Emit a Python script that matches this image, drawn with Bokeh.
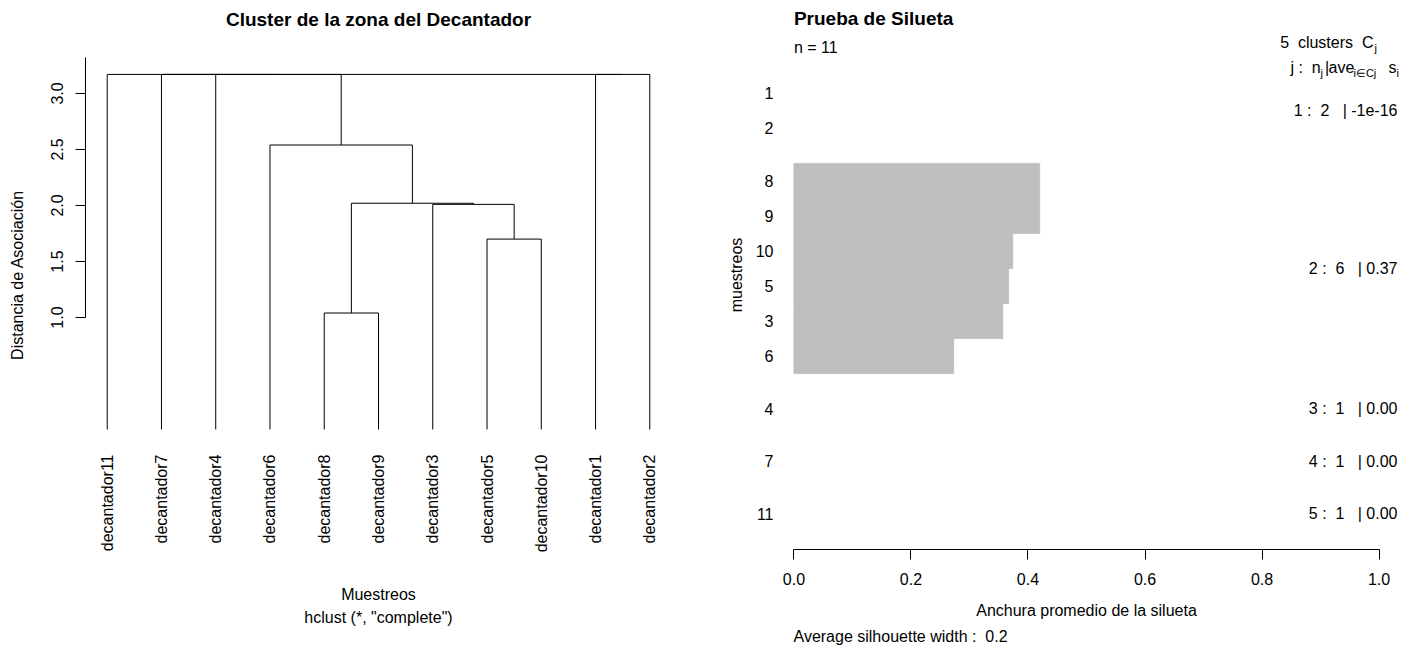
from bokeh.plotting import figure
from bokeh.models import Range1d, FixedTicker, Label, PrintfTickFormatter, Title
from bokeh.layouts import row
from bokeh.embed import file_html
from bokeh.resources import INLINE
import math

FONT = "Liberation Sans"
BASE = "16px"
SUB = "11px"
TITLE = "19px"
NB = "\u00a0"  # non-breaking space keeps double spacing in SVG text

# ---------------- dendrogram data ----------------
leaf_order = ["decantador11", "decantador7", "decantador4", "decantador6",
              "decantador8", "decantador9", "decantador3", "decantador5",
              "decantador10", "decantador1", "decantador2"]
# each merge: (left child, right child, height); ints refer to earlier merges
merge_left = ["decantador8", "decantador5", "decantador3", 0, "decantador6",
              "decantador1", "decantador4", "decantador7", "decantador11", 8]
merge_right = ["decantador9", "decantador10", 1, 2, 3,
               "decantador2", 4, 6, 7, 5]
merge_height = [1.04, 1.70, 2.01, 2.02, 2.54, 3.17, 3.17, 3.17, 3.17, 3.17]
dist_ticks = [1.0, 1.5, 2.0, 2.5, 3.0]

# ---------------- silhouette data ----------------
sil_samples = ["1", "2", "8", "9", "10", "5", "3", "6", "4", "7", "11"]
sil_cluster = [1, 1, 2, 2, 2, 2, 2, 2, 3, 4, 5]
sil_width = [-1e-16, -1e-16, 0.42, 0.42, 0.374, 0.367, 0.357, 0.273, 0.0, 0.0, 0.0]
sil_ticks = [0.0, 0.2, 0.4, 0.6, 0.8, 1.0]


def style_text(lbl, size=BASE, bold=False):
    lbl.text_font = FONT
    lbl.text_font_size = size
    lbl.text_color = "black"
    lbl.text_font_style = "bold" if bold else "normal"
    return lbl


def style_axis(ax):
    ax.major_label_text_font = FONT
    ax.major_label_text_font_size = BASE
    ax.major_label_text_color = "black"
    ax.axis_label_text_font = FONT
    ax.axis_label_text_font_size = BASE
    ax.axis_label_text_font_style = "normal"
    ax.axis_label_text_color = "black"
    ax.axis_line_color = "black"
    ax.major_tick_line_color = "black"
    ax.minor_tick_line_color = None
    ax.major_tick_in = 0
    ax.major_tick_out = 10


def new_fig(width, xr, yr, left, right):
    f = figure(width=width, height=650, x_range=xr, y_range=yr,
               toolbar_location=None, output_backend="svg",
               min_border_left=left, min_border_right=right,
               min_border_top=0, min_border_bottom=101)
    f.outline_line_color = None
    f.grid.visible = False
    f.background_fill_color = "white"
    f.border_fill_color = "white"
    return f


# ================= left panel: dendrogram =================
n_leaf = len(leaf_order)
pad_x = 0.04 * (n_leaf - 1)
p1 = new_fig(708, Range1d(1 - pad_x, n_leaf + pad_x), Range1d(-1.071, 3.830), 85, 37)

pos = {name: i + 1 for i, name in enumerate(leaf_order)}
hgt = {name: 0.0 for name in leaf_order}
x0, y0, x1, y1 = [], [], [], []
for k, (a, b, h) in enumerate(zip(merge_left, merge_right, merge_height)):
    xa, xb = pos[a], pos[b]
    x0 += [xa, xb, xa]
    y0 += [hgt[a], hgt[b], h]
    x1 += [xa, xb, xb]
    y1 += [h, h, h]
    pos[k] = (xa + xb) / 2
    hgt[k] = h
p1.segment(x0=x0, y0=y0, x1=x1, y1=y1, line_color="black", line_width=1)

ya = p1.yaxis[0]
style_axis(ya)
ya.ticker = FixedTicker(ticks=dist_ticks)
ya.formatter = PrintfTickFormatter(format="%.1f")
ya.bounds = (dist_ticks[0], 3.32)
ya.major_label_orientation = "vertical"
ya.major_label_standoff = 12
ya.axis_label = "Distancia de Asociación"
ya.axis_label_standoff = 23

# leaf names: tick labels turned to read upwards, pulled up to hang below the leaves
xa = p1.xaxis[0]
style_axis(xa)
xa.ticker = FixedTicker(ticks=list(range(1, n_leaf + 1)))
xa.major_label_overrides = {i + 1: name for i, name in enumerate(leaf_order)}
xa.major_label_orientation = math.pi / 2
xa.axis_line_color = None
xa.major_tick_line_color = None
xa.major_tick_out = 0
xa.major_label_standoff = -95
xa.axis_label = "Muestreos"
xa.axis_label_standoff = 31

sub1 = Title(text='hclust (*, "complete")', align="center", standoff=0)
style_text(sub1)
p1.add_layout(sub1, "below")

mid1 = (p1.x_range.start + p1.x_range.end) / 2
p1.add_layout(style_text(Label(x=mid1, y=3.661, text="Cluster de la zona del Decantador",
                               text_align="center", text_baseline="middle"), TITLE, True))

# ================= right panel: silhouette =================
ypos = []
cur = 0.0
for i, c in enumerate(sil_cluster):
    if i > 0 and c != sil_cluster[i - 1]:
        cur += 0.5
    ypos.append(cur + 0.5)
    cur += 1.0
total = cur
pad_y = 0.04 * total
sc_x, sc_y = 585.2, 35.0
p2 = new_fig(709, Range1d(-0.04, 1.04), Range1d(total + pad_y, -pad_y - 57 / sc_y), 62, 15)

edge_alpha = [1.0 if w > 1e-9 else 0.0 for w in sil_width]
p2.hbar(y=ypos, left=0, right=sil_width, height=1.0,
        fill_color="#BEBEBE", line_color="#BEBEBE", line_width=0.8,
        line_alpha=edge_alpha)

bx = p2.xaxis[0]
style_axis(bx)
bx.ticker = FixedTicker(ticks=sil_ticks)
bx.formatter = PrintfTickFormatter(format="%.1f")
bx.bounds = (sil_ticks[0], sil_ticks[-1])
bx.major_label_standoff = 13
bx.axis_label = "Anchura promedio de la silueta"
bx.axis_label_standoff = 14

ly = p2.yaxis[0]
style_axis(ly)
ly.ticker = FixedTicker(ticks=ypos)
ly.major_label_overrides = {y: s for y, s in zip(ypos, sil_samples)}
ly.axis_line_color = None
ly.major_tick_line_color = None
ly.major_tick_out = 0
ly.major_label_standoff = -3
ly.axis_label = "muestreos"
ly.axis_label_standoff = 8

n_total = len(sil_samples)
avg_all = sum(sil_width) / n_total
foot = Title(text=f"Average silhouette width :{NB}{NB}{avg_all:.2g}", align="left",
             offset=23, standoff=8)
style_text(foot)
p2.add_layout(foot, "below")

fr_left = 62


def dx(px):
    return p2.x_range.start + (px - fr_left) / sc_x


def dy(py):
    return p2.y_range.end + py / sc_y


def put(x, y, text, size=BASE, align="left", bold=False):
    p2.add_layout(style_text(Label(x=x, y=y, text=text, text_align=align,
                                   text_baseline="middle"), size, bold))


put(0.0, dy(18), "Prueba de Silueta", TITLE, bold=True)
put(0.0, dy(47), f"n = {n_total}")

clusters = sorted(set(sil_cluster))
# header: "k clusters C_j" and "j : n_j | ave_{i in Cj} s_i"
put(dx(665), dy(42), f"{len(clusters)}{NB}{NB}clusters{NB}{NB}C", align="right")
put(dx(666), dy(47), "j", SUB)
put(dx(582), dy(67), f"j :{NB}{NB}n")
put(dx(612), dy(72), "j", SUB)
put(dx(616.5), dy(67), "|")
put(dx(620), dy(67), "ave")
put(dx(645), dy(72), "i\u2208Cj", SUB)
put(dx(680), dy(67), "s")
put(dx(688), dy(72), "i", SUB)


def fmt_avg(v):
    if v != 0 and abs(v) < 1e-8:
        return f"{v:.0e}"
    return f"{v:.2f}"


for c in clusters:
    idx = [i for i, cc in enumerate(sil_cluster) if cc == c]
    yc = sum(ypos[i] for i in idx) / len(idx)
    avg = sum(sil_width[i] for i in idx) / len(idx)
    put(dx(689), yc, f"{c} :{NB}{NB}{len(idx)}{NB}{NB}{NB}| {fmt_avg(avg)}", align="right")

layout = row(p1, p2)
open("out.html", "w").write(file_html(layout, INLINE))
